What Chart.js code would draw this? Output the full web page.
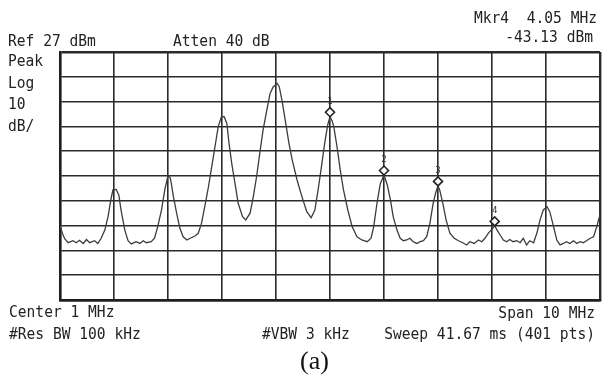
<!DOCTYPE html>
<html>
<head>
<meta charset="utf-8">
<script src="https://cdn.jsdelivr.net/npm/chart.js@4/dist/chart.umd.min.js"></script>
<style>
  html, body { margin: 0; padding: 0; background: #fff; }
  #wrap { position: relative; width: 602px; height: 378px; overflow: hidden; background: #fff; }
  #plot { position: absolute; left: 0; top: 0; }
  .t {
    position: absolute; white-space: pre; color: #222;
    font-family: "DejaVu Sans Mono", "Liberation Mono", monospace;
    font-size: 14.6px; line-height: 14.6px;
    transform: scaleY(1.12); transform-origin: 0 0;
  }
  .r { text-align: right; }
  .cap {
    position: absolute; color: #111;
    font-family: "Liberation Serif", "DejaVu Serif", serif;
    font-size: 26px; line-height: 26px;
  }
</style>
</head>
<body>
<div id="wrap">
  <canvas id="plot" width="602" height="378"></canvas>
  <div class="t r" style="right:5px;top:10px;">Mkr4  4.05 MHz</div>
  <div class="t r" style="right:9px;top:29px;">-43.13 dBm</div>
  <div class="t" style="left:8px;top:33px;">Ref 27 dBm</div>
  <div class="t" style="left:173px;top:33px;">Atten 40 dB</div>
  <div class="t" style="left:8px;top:53px;">Peak</div>
  <div class="t" style="left:8px;top:75px;">Log</div>
  <div class="t" style="left:8px;top:96px;">10</div>
  <div class="t" style="left:8px;top:118px;">dB/</div>
  <div class="t" style="left:9px;top:304px;">Center 1 MHz</div>
  <div class="t r" style="right:7px;top:305px;">Span 10 MHz</div>
  <div class="t" style="left:9px;top:326px;">#Res BW 100 kHz</div>
  <div class="t" style="left:262px;top:326px;">#VBW 3 kHz</div>
  <div class="t r" style="right:7px;top:326px;">Sweep 41.67 ms (401 pts)</div>
  <div class="cap" style="left:300px;top:348px;">(a)</div>
</div>
<script>
// Display settings: center 1 MHz, span 10 MHz, ref 27 dBm, 10 dB/div
const freqMin = -4, freqMax = 6, freqStep = 1;
const refLevel = 27, dbPerDiv = 10, divisions = 10;

// Trace: frequency (MHz) and level (dBm)
const freqMHz = [
  -4.00, -3.95, -3.91, -3.85, -3.76, -3.70, -3.64, -3.57, -3.51, -3.45,
  -3.36, -3.30, -3.24, -3.17, -3.11, -3.06, -3.02, -2.96, -2.91, -2.87,
  -2.80, -2.74, -2.68, -2.59, -2.52, -2.46, -2.40, -2.31, -2.25, -2.19,
  -2.12, -2.06, -2.00, -1.96, -1.94, -1.90, -1.84, -1.78, -1.72, -1.65,
  -1.59, -1.50, -1.44, -1.38, -1.32, -1.25, -1.19, -1.13, -1.07, -1.01,
  -0.96, -0.91, -0.87, -0.82, -0.76, -0.70, -0.62, -0.56, -0.48, -0.42,
  -0.36, -0.30, -0.24, -0.17, -0.11, -0.05, -0.01, 0.02, 0.06, 0.11,
  0.17, 0.24, 0.30, 0.39, 0.48, 0.57, 0.65, 0.72, 0.78, 0.85,
  0.91, 0.96, 1.00, 1.04, 1.07, 1.13, 1.19, 1.25, 1.33, 1.41,
  1.50, 1.59, 1.69, 1.76, 1.81, 1.87, 1.93, 2.00, 2.06, 2.12,
  2.17, 2.24, 2.30, 2.36, 2.42, 2.48, 2.54, 2.61, 2.67, 2.73,
  2.79, 2.85, 2.91, 2.96, 3.00, 3.03, 3.09, 3.15, 3.22, 3.30,
  3.38, 3.46, 3.53, 3.59, 3.67, 3.75, 3.81, 3.87, 3.93, 3.99,
  4.05, 4.10, 4.15, 4.21, 4.27, 4.33, 4.39, 4.46, 4.52, 4.58,
  4.64, 4.70, 4.77, 4.83, 4.89, 4.95, 5.02, 5.07, 5.14, 5.20,
  5.26, 5.32, 5.38, 5.44, 5.51, 5.57, 5.63, 5.69, 5.75, 5.82,
  5.88, 5.94, 5.99, 6.00
];
const levelDbm = [
  -43.0, -46.5, -48.4, -49.9, -49.1, -49.9, -48.9, -50.2, -48.6, -49.9,
  -49.1, -50.2, -48.2, -44.8, -39.4, -32.7, -28.6, -28.4, -30.7, -36.7,
  -44.8, -49.1, -50.4, -49.5, -50.2, -49.1, -49.9, -49.5, -48.1, -43.4,
  -36.7, -28.6, -22.9, -23.6, -25.9, -31.3, -38.0, -44.1, -47.5, -48.8,
  -48.1, -47.2, -46.1, -42.1, -35.4, -27.3, -19.2, -11.2, -3.1, 0.9,
  0.9, -1.8, -9.8, -17.9, -25.9, -34.0, -39.4, -40.7, -38.0, -31.3,
  -23.3, -13.8, -4.5, 3.6, 10.3, 13.0, 13.7, 14.4, 13.0, 7.6,
  -0.4, -9.8, -16.5, -24.6, -31.3, -37.4, -39.8, -36.7, -28.6, -17.9,
  -8.5, -2.2, 0.9, -0.8, -3.1, -11.2, -20.6, -28.6, -36.7, -43.4,
  -47.5, -48.8, -49.5, -48.1, -43.4, -34.0, -26.2, -22.6, -26.5, -32.7,
  -39.4, -44.8, -48.1, -49.1, -48.8, -48.1, -49.5, -50.2, -49.5, -49.1,
  -47.5, -42.1, -34.0, -29.5, -27.0, -28.5, -34.0, -40.7, -46.1, -48.1,
  -49.1, -49.9, -50.8, -49.5, -50.2, -48.8, -49.5, -48.1, -46.1, -44.6,
  -43.13, -45.0, -46.8, -48.8, -49.5, -48.6, -49.5, -49.1, -49.9, -48.1,
  -50.8, -49.1, -49.9, -46.1, -40.7, -36.7, -35.4, -37.4, -43.4, -48.8,
  -50.8, -50.2, -49.5, -50.2, -49.1, -50.2, -49.5, -49.9, -49.1, -48.1,
  -47.5, -43.4, -39.4, -38.5
];

// Markers 1-4
const markerLabels = ["1", "2", "3", "4"];
const markerFreq = [1.00, 2.00, 3.00, 4.05];
const markerLevel = [0.9, -22.6, -27.0, -43.13];

const traceData = freqMHz.map((f, i) => ({ x: f, y: levelDbm[i] }));
const markerData = markerFreq.map((f, i) => ({ x: f, y: markerLevel[i] }));

const markerPlugin = {
  id: "markerPlugin",
  afterDatasetsDraw(chart) {
    const ctx = chart.ctx;
    const xs = chart.scales.x, ys = chart.scales.y;
    ctx.save();
    markerData.forEach((m, i) => {
      const px = xs.getPixelForValue(m.x);
      const py = ys.getPixelForValue(m.y);
      const hw = 4.5, h = 9;
      ctx.beginPath();
      ctx.moveTo(px, py);
      ctx.lineTo(px + hw, py - h / 2);
      ctx.lineTo(px, py - h);
      ctx.lineTo(px - hw, py - h / 2);
      ctx.closePath();
      ctx.fillStyle = "#fff";
      ctx.fill();
      ctx.lineWidth = 1.6;
      ctx.strokeStyle = "#222";
      ctx.stroke();
      ctx.fillStyle = "#333";
      ctx.font = "9px 'DejaVu Sans Mono', monospace";
      ctx.textAlign = "center";
      ctx.textBaseline = "alphabetic";
      ctx.fillText(markerLabels[i], px, py - h - 4);
    });
    ctx.restore();
  }
};

const gridWidth = (c) => (c.index === 0 || c.index === divisions) ? 2.4 : 1.6;

new Chart(document.getElementById("plot"), {
  type: "line",
  data: {
    datasets: [{
      data: traceData,
      borderColor: "#3c3c3c",
      borderWidth: 1.3,
      pointRadius: 0,
      tension: 0,
      fill: false
    }]
  },
  options: {
    responsive: false,
    animation: false,
    events: [],
    layout: { padding: { left: 60, top: 52, right: 2, bottom: 78 } },
    plugins: { legend: { display: false }, tooltip: { enabled: false } },
    scales: {
      x: {
        type: "linear",
        min: freqMin, max: freqMax,
        ticks: { display: false, stepSize: freqStep },
        grid: { color: "#2b2b2b", lineWidth: gridWidth, drawTicks: false },
        border: { display: true, color: "#1e1e1e", width: 2.4 }
      },
      y: {
        type: "linear",
        min: refLevel - dbPerDiv * divisions, max: refLevel,
        ticks: { display: false, stepSize: dbPerDiv },
        grid: { color: "#2b2b2b", lineWidth: gridWidth, drawTicks: false },
        border: { display: true, color: "#1e1e1e", width: 2.4 }
      }
    }
  },
  plugins: [markerPlugin]
});
</script>
</body>
</html>
